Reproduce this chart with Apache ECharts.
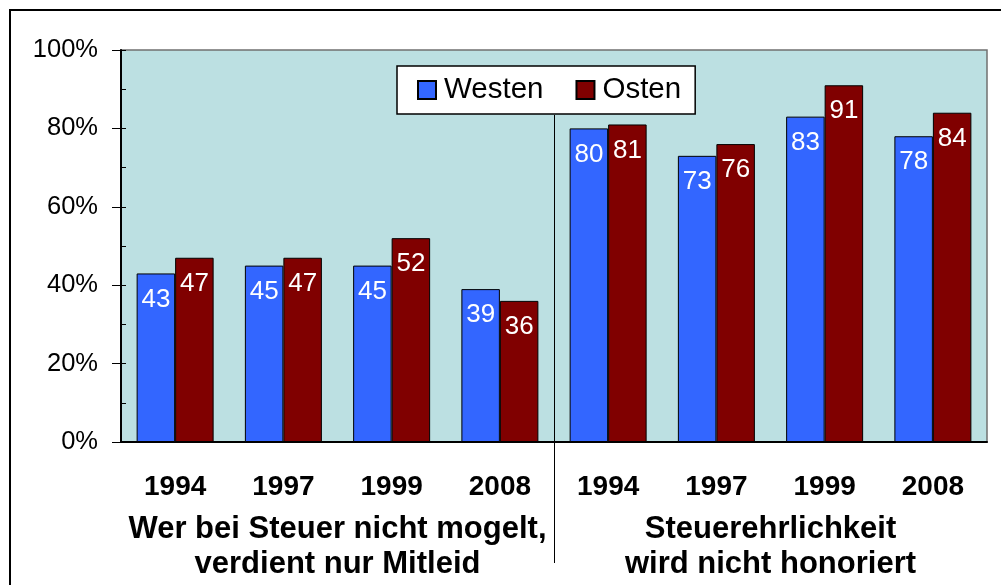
<!DOCTYPE html>
<html>
<head>
<meta charset="utf-8">
<script src="https://cdn.jsdelivr.net/npm/echarts@6/dist/echarts.min.js"></script>
<style>
  html, body { margin: 0; padding: 0; background: #fff; }
  #main { width: 1001px; height: 585px; }
</style>
</head>
<body>
<div id="main"></div>
<script>
// data
var categories = ['a1994', 'a1997', 'a1999', 'a2008', 'b1994', 'b1997', 'b1999', 'b2008'];
var yearLabels = ['1994', '1997', '1999', '2008', '1994', '1997', '1999', '2008'];
var groupLabels = ['Wer bei Steuer nicht mogelt,\nverdient nur Mitleid', 'Steuerehrlichkeit\nwird nicht honoriert'];
var westen = [43, 45, 45, 39, 80, 73, 83, 78];
var osten = [47, 47, 52, 36, 81, 76, 91, 84];
var yTicks = [0, 20, 40, 60, 80, 100];

var font = '"Liberation Sans", Arial, sans-serif';

var myChart = echarts.init(document.getElementById('main'));

var option = {
	animation: false,
	textStyle: { fontFamily: font },
	grid: {
		left: 121, right: 14, top: 50, bottom: 143,
		show: true,
		backgroundColor: '#BCE0E2',
		borderColor: '#707070',
		borderWidth: 1.5
	},
	legend: {
		data: ['Westen', 'Osten'],
		left: 397, top: 66,
		padding: [9, 14, 9, 20],
		backgroundColor: '#fff',
		borderColor: '#000',
		borderWidth: 1.5,
		borderRadius: 0,
		itemWidth: 18, itemHeight: 18,
		itemGap: 32,
		icon: 'rect',
		textStyle: { fontSize: 29.5, color: '#000', fontFamily: font, padding: [0, 0, 0, 3] }
	},
	xAxis: [{
		type: 'category',
		data: categories,
		axisLine: { lineStyle: { color: '#000', width: 2 } },
		axisTick: { length: 6, lineStyle: { color: '#000' } },
		axisLabel: {
			margin: 31, interval: 0,
			fontSize: 28, fontWeight: 'bold', color: '#000', fontFamily: font,
			formatter: function (v, i) { return yearLabels[i]; }
		}
	}, {
		type: 'category',
		data: groupLabels,
		position: 'bottom',
		axisLine: { show: false },
		axisTick: { show: false },
		axisLabel: {
			margin: 70, interval: 0,
			fontSize: 31, fontWeight: 'bold', color: '#000', fontFamily: font,
			lineHeight: 35
		}
	}],
	yAxis: [{
		type: 'value',
		min: yTicks[0], max: yTicks[yTicks.length - 1], interval: 20,
		axisLine: { show: true, lineStyle: { color: '#000', width: 2 } },
		axisTick: { show: true, length: 9, lineStyle: { color: '#000' } },
		splitLine: { show: false },
		axisLabel: {
			margin: 23, fontSize: 25.5, color: '#000', fontFamily: font,
			formatter: '{value}%'
		}
	}, {
		type: 'value',
		position: 'left',
		min: 0, max: 100, interval: 10,
		axisLine: { show: false },
		axisTick: { show: true, inside: true, length: 5, lineStyle: { color: '#000' } },
		splitLine: { show: false },
		axisLabel: { show: false }
	}],
	series: [{
		name: 'Westen',
		type: 'bar',
		data: westen,
		barWidth: 38.5,
		barGap: '0%',
		itemStyle: { color: '#3366FF', borderColor: '#000', borderWidth: 1 },
		label: {
			show: true, position: 'insideTop', distance: 13,
			color: '#fff', fontSize: 26, fontFamily: font
		}
	}, {
		name: 'Osten',
		type: 'bar',
		data: osten,
		barWidth: 38.5,
		itemStyle: { color: '#800000', borderColor: '#000', borderWidth: 1 },
		label: {
			show: true, position: 'insideTop', distance: 13,
			color: '#fff', fontSize: 26, fontFamily: font
		}
	}],
	graphic: [{
		type: 'rect',
		z: 100,
		shape: { x: 10, y: 10, width: 1020, height: 620 },
		style: { fill: null, stroke: '#000', lineWidth: 2 }
	}, {
		type: 'line',
		z: 100,
		shape: { x1: 554.5, y1: 115, x2: 554.5, y2: 563 },
		style: { stroke: '#000', lineWidth: 1 }
	}]
};

myChart.setOption(option);
</script>
</body>
</html>
